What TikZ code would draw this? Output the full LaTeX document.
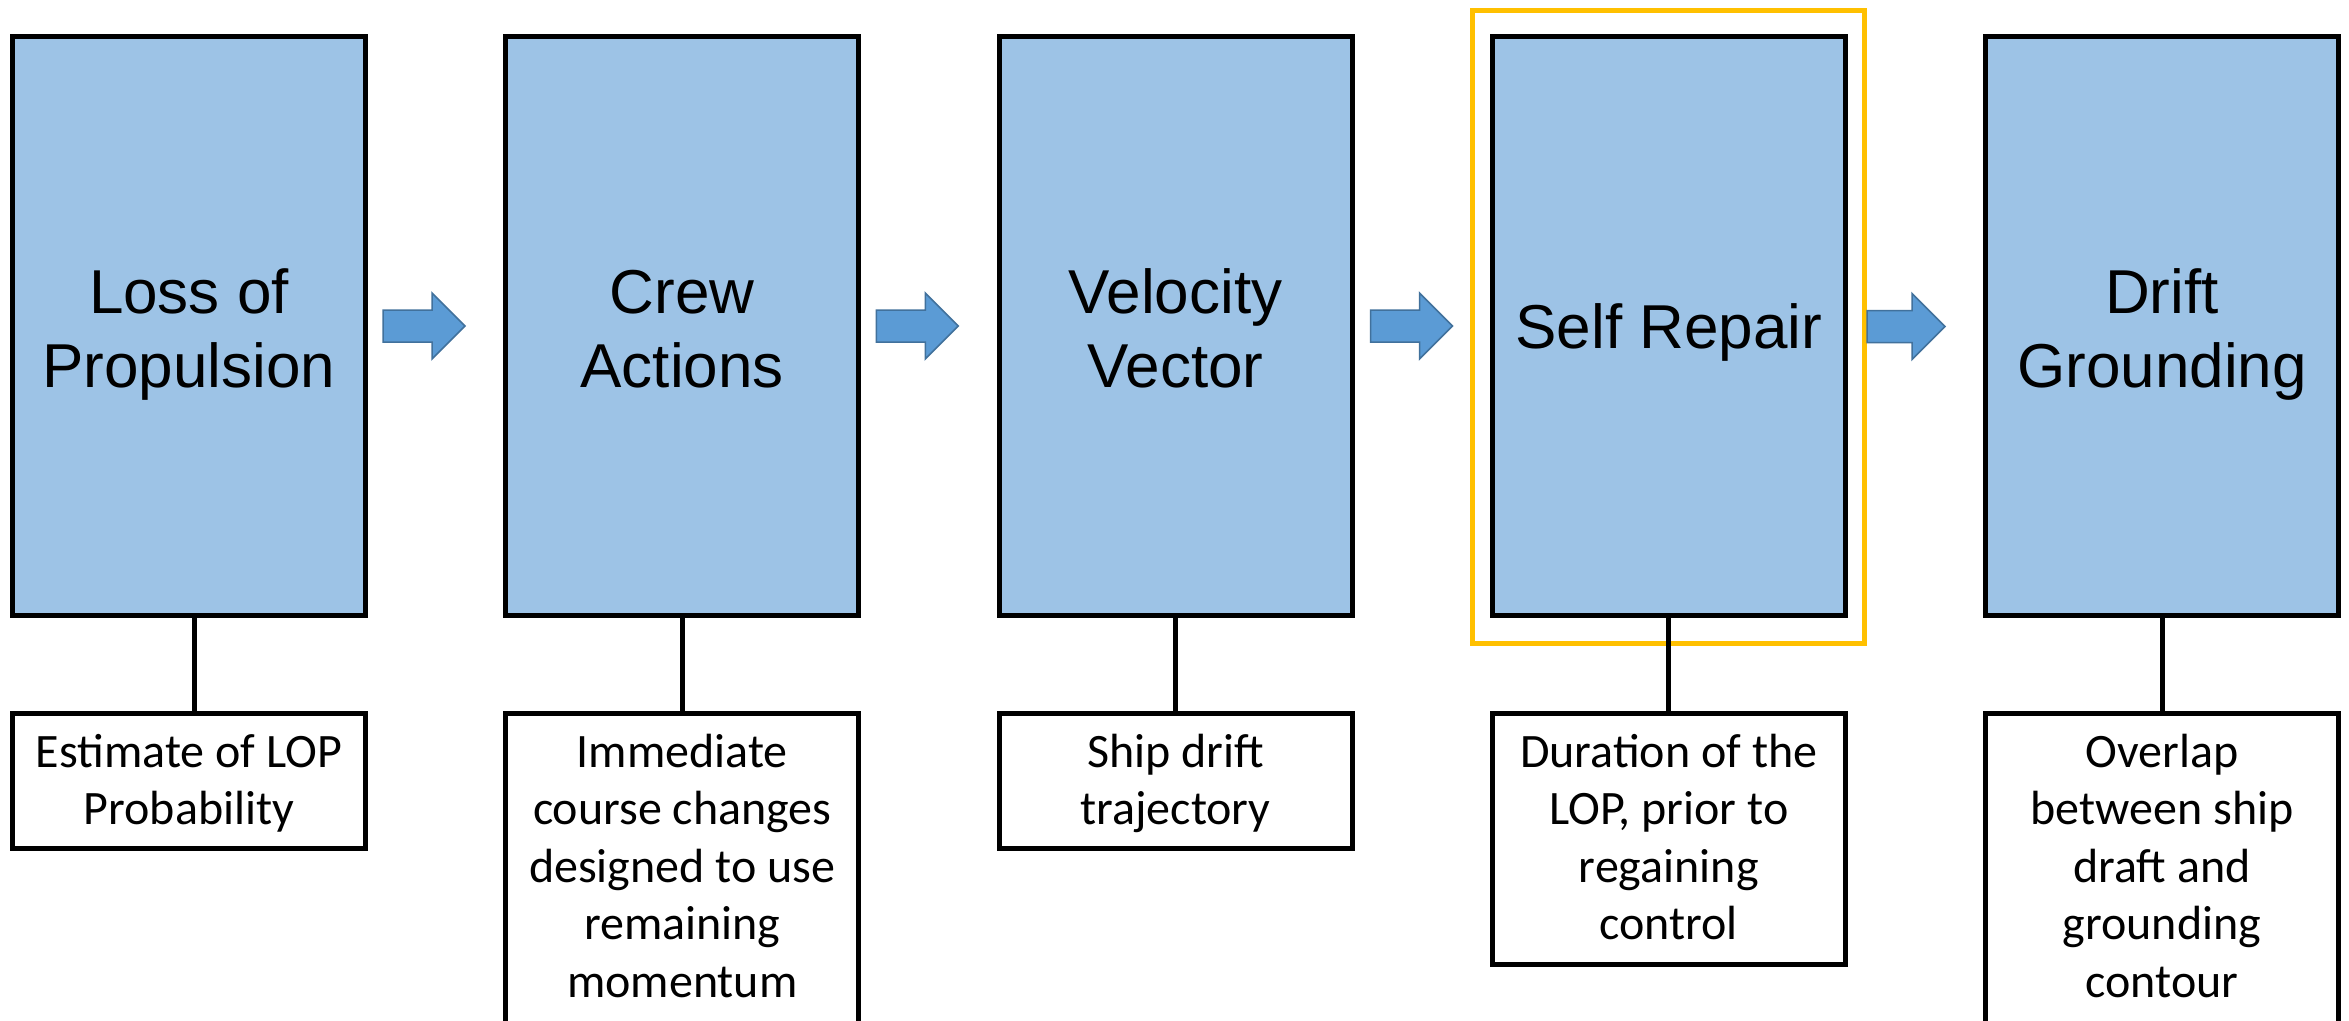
\documentclass[tikz,border=0pt]{standalone}
\usepackage{fontspec}
\newfontfamily\headfont{Liberation Sans}
\newfontfamily\notefont{Carlito}
\definecolor{stagefill}{HTML}{9DC3E6}
\definecolor{arrowfill}{HTML}{5B9BD5}
\definecolor{arrowline}{HTML}{41719C}
\definecolor{focusline}{HTML}{FFC000}

\begin{document}
\begin{tikzpicture}[x=1pt, y=-1pt,
  stage/.style={draw=black, line width=5pt, fill=stagefill,
    minimum width=353pt, minimum height=579pt, inner sep=0pt},
  note/.style={draw=black, line width=5pt, fill=white,
    minimum width=353pt, inner sep=0pt},
  focus/.style={draw=focusline, line width=5pt,
    minimum width=392.5pt, minimum height=633pt, inner sep=0pt},
  link/.style={draw=black, line width=5pt},
  blockarrow/.style={fill=arrowfill, draw=arrowline, line width=1.5pt},
  stagetext/.style={anchor=base, inner sep=0pt,
    font=\headfont\fontsize{62}{74}\selectfont,
    execute at begin node={\begin{minipage}[t]{345pt}\centering},
    execute at end node={\end{minipage}}},
  notetext/.style={anchor=base, inner sep=0pt,
    font=\notefont\fontsize{48}{57.5}\selectfont,
    execute at begin node={\begin{minipage}[t]{345pt}\centering},
    execute at end node={\end{minipage}}}]

% page area
\useasboundingbox (0,0) rectangle (2349,1020);
\clip (0,0) rectangle (2349,1020);
\fill[white] (0,0) rectangle (2349,1020);

% stages
\node[stage] (m1) at (189,326) {};
\node[stage] (m2) at (682.25,326) {};
\node[stage] (m3) at (1175.5,326) {};
\node[stage] (m4) at (1668.75,326) {};
\node[stage] (m5) at (2162,326) {};

\node[stagetext] (t1) at (189,313) {Loss of\\Propulsion};
\node[stagetext] (t2) at (682.25,313) {Crew\\Actions};
\node[stagetext] (t3) at (1175.5,313) {Velocity\\Vector};
\node[stagetext] (t4) at (1668.75,348) {Self Repair};
\node[stagetext] (t5) at (2162,313) {Drift\\Grounding};

% highlight around the self repair stage
\node[focus] (hl) at (1668.25,326.5) {};

% notes under each stage
\node[note, minimum height=134.5pt] (s1) at (189,780.75) {};
\node[note, minimum height=386.5pt] (s2) at (682.25,906.75) {};
\node[note, minimum height=134.5pt] (s3) at (1175.5,780.75) {};
\node[note, minimum height=251pt]   (s4) at (1668.75,839) {};
\node[note, minimum height=386.5pt] (s5) at (2162,906.75) {};

\node[notetext] (n1) at (189,767) {Estimate of LOP\\Probability};
\node[notetext] (n2) at (682.25,767) {Immediate\\course changes\\designed to use\\remaining\\momentum};
\node[notetext] (n3) at (1175.5,767) {Ship drift\\trajectory};
\node[notetext] (n4) at (1668.75,767) {Duration of the\\LOP, prior to\\regaining\\control};
\node[notetext] (n5) at (2162,767) {Overlap\\between ship\\draft and\\grounding\\contour};

% stage-to-note links
\draw[link] ([xshift=5pt]m1.south) -- ([xshift=5pt]s1.north);
\draw[link] (m2.south) -- (s2.north);
\draw[link] (m3.south) -- (s3.north);
\draw[link] (m4.south) -- (s4.north);
\draw[link] (m5.south) -- (s5.north);

% block arrows between stages
\draw[blockarrow] ([xshift=15pt,yshift=-16pt]m1.east) -- ++(49,0) -- ++(0,17)
  -- ++(33,-33) -- ++(-33,-33) -- ++(0,17) -- ++(-49,0) -- cycle;
\draw[blockarrow] ([xshift=15pt,yshift=-16pt]m2.east) -- ++(49,0) -- ++(0,17)
  -- ++(33,-33) -- ++(-33,-33) -- ++(0,17) -- ++(-49,0) -- cycle;
\draw[blockarrow] ([xshift=16pt,yshift=-16pt]m3.east) -- ++(49,0) -- ++(0,17)
  -- ++(33,-33) -- ++(-33,-33) -- ++(0,17) -- ++(-49,0) -- cycle;
\draw[blockarrow] ([yshift=-16pt]hl.east) -- ++(45,0) -- ++(0,17)
  -- ++(33,-33) -- ++(-33,-33) -- ++(0,17) -- ++(-45,0) -- cycle;
\end{tikzpicture}
\end{document}
